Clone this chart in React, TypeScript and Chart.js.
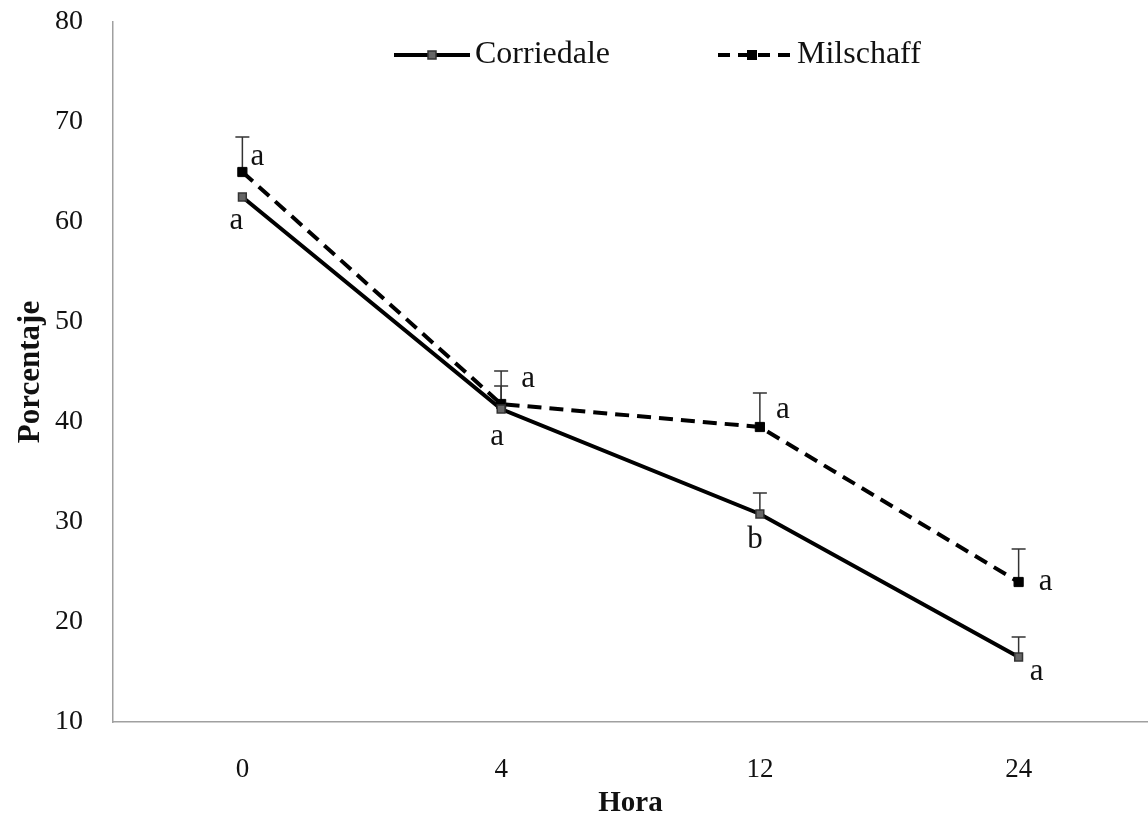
import React, { useEffect, useRef } from 'react';
import { Chart, registerables } from 'chart.js';

Chart.register(...registerables);

const hours = ['0', '4', '12', '24'];
const corriedale = [62.5, 41.3, 30.8, 16.5];
const corriedaleUpper: (number | null)[] = [null, 43.6, 32.9, 18.5];
const milschaff = [65.0, 41.8, 39.5, 24.0];
const milschaffUpper: (number | null)[] = [68.5, 45.1, 42.9, 27.3];
const corriedaleLetters = ['a', 'a', 'b', 'a'];
const milschaffLetters = ['a', 'a', 'a', 'a'];
const seriesNames = ['Corriedale', 'Milschaff'];
const yMin = 10;
const yMax = 80;
const yStep = 10;

const SERIF = '"Liberation Serif", "Times New Roman", serif';

const errorBarPlugin = {
  id: 'errorBars',
  beforeDatasetsDraw(chart: any) {
    const ctx = chart.ctx;
    const y = chart.scales.y;
    const uppers = [corriedaleUpper, milschaffUpper];
    ctx.save();
    ctx.strokeStyle = '#333';
    ctx.lineWidth = 1.5;
    uppers.forEach((arr, di) => {
      const meta = chart.getDatasetMeta(di);
      arr.forEach((u, i) => {
        if (u == null) return;
        const pt = meta.data[i];
        const yTop = y.getPixelForValue(u);
        ctx.beginPath();
        ctx.moveTo(pt.x, pt.y);
        ctx.lineTo(pt.x, yTop);
        ctx.moveTo(pt.x - 7, yTop);
        ctx.lineTo(pt.x + 7, yTop);
        ctx.stroke();
      });
    });
    ctx.restore();
  },
};

const letterOffsets = [
  [[-6, 24], [-4, 28], [-5, 26], [18, 15]],
  [[15, -15], [27, -25], [23, -17], [27, 0]],
];

const lettersPlugin = {
  id: 'letters',
  afterDatasetsDraw(chart: any) {
    const ctx = chart.ctx;
    const letters = [corriedaleLetters, milschaffLetters];
    ctx.save();
    ctx.fillStyle = '#111';
    ctx.font = `31px ${SERIF}`;
    ctx.textAlign = 'center';
    ctx.textBaseline = 'middle';
    letters.forEach((arr, di) => {
      const meta = chart.getDatasetMeta(di);
      arr.forEach((t, i) => {
        const pt = meta.data[i];
        const [dx, dy] = letterOffsets[di][i];
        ctx.fillText(t, pt.x + dx, pt.y + dy);
      });
    });
    ctx.restore();
  },
};

const legendPlugin = {
  id: 'customLegend',
  afterDraw(chart: any) {
    const ctx = chart.ctx;
    const yL = 55;
    ctx.save();
    ctx.strokeStyle = '#000';
    ctx.lineWidth = 4;
    ctx.setLineDash([]);
    ctx.beginPath();
    ctx.moveTo(394, yL);
    ctx.lineTo(470, yL);
    ctx.stroke();
    ctx.fillStyle = '#666';
    ctx.strokeStyle = '#333';
    ctx.lineWidth = 1.5;
    ctx.fillRect(428, yL - 4, 8, 8);
    ctx.strokeRect(428, yL - 4, 8, 8);
    ctx.strokeStyle = '#000';
    ctx.lineWidth = 4;
    ctx.setLineDash([12, 8]);
    ctx.beginPath();
    ctx.moveTo(718, yL);
    ctx.lineTo(792, yL);
    ctx.stroke();
    ctx.setLineDash([]);
    ctx.fillStyle = '#000';
    ctx.fillRect(747, yL - 5, 10, 10);
    ctx.fillStyle = '#111';
    ctx.font = `32px ${SERIF}`;
    ctx.textAlign = 'left';
    ctx.textBaseline = 'middle';
    ctx.fillText(seriesNames[0], 475, yL);
    ctx.fillText(seriesNames[1], 797, yL);
    ctx.restore();
  },
};

export default function App() {
  const ref = useRef<HTMLCanvasElement>(null);
  useEffect(() => {
    if (!ref.current) return;
    const chart = new Chart(ref.current, {
      type: 'line',
      data: {
        labels: hours,
        datasets: [
          {
            label: seriesNames[0],
            data: corriedale,
            borderColor: '#000',
            borderWidth: 4,
            pointStyle: 'rect',
            pointRadius: 5.5,
            pointBackgroundColor: '#666',
            pointBorderColor: '#333',
            pointBorderWidth: 1.5,
            tension: 0,
          },
          {
            label: seriesNames[1],
            data: milschaff,
            borderColor: '#000',
            borderWidth: 4,
            borderDash: [14, 8],
            pointStyle: 'rect',
            pointRadius: 6.5,
            pointBackgroundColor: '#000',
            pointBorderColor: '#000',
            pointBorderWidth: 1,
            tension: 0,
          },
        ],
      },
      options: {
        animation: false,
        responsive: false,
        maintainAspectRatio: false,
        devicePixelRatio: 1,
        layout: { autoPadding: false, padding: { top: 22, right: 0, bottom: 0, left: 0 } },
        plugins: {
          legend: { display: false },
          tooltip: { enabled: false },
        },
        scales: {
          x: {
            type: 'category',
            offset: true,
            grid: { display: false, drawTicks: false },
            border: { color: '#a0a0a0', width: 1.5 },
            ticks: {
              color: '#111',
              font: { family: SERIF, size: 27 },
              padding: 32,
            },
            title: {
              display: true,
              text: 'Hora',
              color: '#111',
              font: { family: SERIF, size: 29, weight: 'bold' },
              padding: { top: 0, bottom: 0 },
            },
            afterFit(scale: any) {
              scale.height = 99;
              scale.paddingLeft = 0;
              scale.paddingRight = 0;
            },
          },
          y: {
            min: yMin,
            max: yMax,
            grid: { display: false, drawTicks: false },
            border: { color: '#a0a0a0', width: 1.5 },
            ticks: {
              stepSize: yStep,
              color: '#111',
              font: { family: SERIF, size: 28 },
              padding: 30,
            },
            title: {
              display: true,
              text: 'Porcentaje',
              color: '#111',
              font: { family: SERIF, size: 31, weight: 'bold' },
              padding: { top: 12, bottom: 0 },
            },
            afterFit(scale: any) {
              scale.width = 113;
              scale.paddingTop = 0;
              scale.paddingBottom = 0;
            },
          },
        },
      },
      plugins: [errorBarPlugin, lettersPlugin, legendPlugin],
    } as any);
    return () => chart.destroy();
  }, []);
  return (
    <div style={{ position: 'fixed', left: 0, top: 0, width: 1148, height: 821, background: '#fff' }}>
      <canvas ref={ref} width={1148} height={821} style={{ display: 'block', width: 1148, height: 821 }} />
    </div>
  );
}
